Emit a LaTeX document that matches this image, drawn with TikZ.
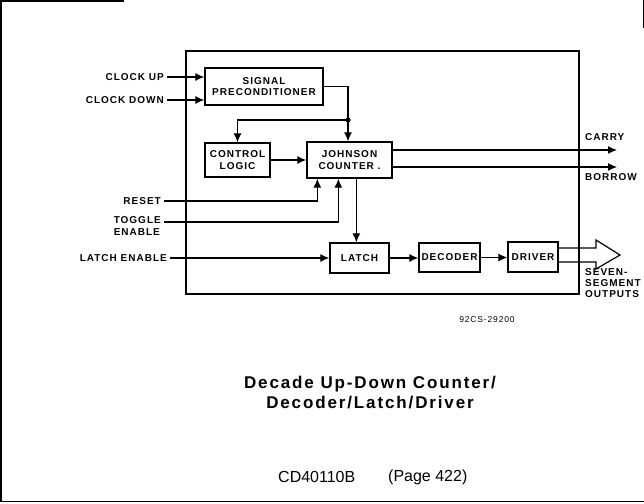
\documentclass[tikz,border=0pt]{standalone}
\usepackage{fontspec}
\usetikzlibrary{arrows.meta}
\newfontfamily\lab[LetterSpace=10]{Liberation Sans}
\newfontfamily\ttl[LetterSpace=11]{Liberation Sans}
\newfontfamily\plain{Liberation Sans}
\begin{document}
\begin{tikzpicture}[x=1pt,y=-1pt,
  ln/.style={line width=1.2pt},
  arr/.style={ln,-{Latex[length=9pt,width=8pt]}},
  blk/.style={draw,line width=1.3pt,inner sep=0pt,align=center,
    font=\lab\bfseries\fontsize{10}{11.5}\selectfont},
  lbl/.style={inner xsep=3pt,inner ysep=0pt,align=left,
    font=\lab\bfseries\fontsize{10}{12}\selectfont},
  ttlstyle/.style={font=\ttl\bfseries\fontsize{17}{20}\selectfont,align=center,inner sep=0pt},
  ftr/.style={font=\plain\fontsize{16}{18}\selectfont,inner sep=0pt}]
\useasboundingbox (0,0) rectangle (644,503);
% page frame
\draw[line width=1.6pt] (1,0) -- (1,502);
\draw[line width=1.2pt] (0,1) -- (124,1);
\draw[line width=1.8pt] (0,501.5) -- (644,501.5);
\draw[line width=1pt] (643,0) -- (643,28);
% main box
\node[draw,line width=1.1pt,minimum width=393pt,minimum height=243pt,inner sep=0pt] (main) at (382.5,172.5) {};
% blocks
\node[blk,minimum width=118pt,minimum height=37pt] (sp) at (264,86.5) {SIGNAL\\PRECONDITIONER};
\node[blk,minimum width=65pt,minimum height=34pt] (cl) at (237.5,160) {CONTROL\\LOGIC};
\node[blk,minimum width=85pt,minimum height=36pt] (jc) at (349.5,160) {JOHNSON\\COUNTER .};
\node[blk,minimum width=59pt,minimum height=30pt] (latch) at (359.5,258) {LATCH};
\node[blk,minimum width=61pt,minimum height=29pt] (dec) at (449.5,257.5) {DECODER};
\node[blk,minimum width=50pt,minimum height=30pt] (drv) at (533,257) {DRIVER};
% input labels
\node[lbl,anchor=east] (cu) at (167,77) {CLOCK UP};
\node[lbl,anchor=east] (cd) at (167,100) {CLOCK DOWN};
\node[lbl,anchor=east] (rst) at (164,201) {RESET};
\node[lbl,anchor=north east] (tog) at (164,216) {TOGGLE\\ENABLE};
\coordinate (togp) at (tog.north east |- 0,222);
\node[lbl,anchor=east] (le) at (170,258) {LATCH ENABLE};
% output labels
\node[lbl,anchor=west] (carry) at (582,137) {CARRY};
\node[lbl,anchor=west] (borrow) at (582,177) {BORROW};
\node[lbl,anchor=north west,font=\lab\bfseries\fontsize{10}{11}\selectfont] (seg) at (582,268) {SEVEN-\\SEGMENT\\OUTPUTS};
\node[font=\lab\fontsize{8.5}{10}\selectfont,inner sep=0pt] (code) at (487,320) {92CS-29200};
% title and footer
\node[ttlstyle] (title) at (370,393) {Decade Up-Down Counter/\\Decoder/Latch/Driver};
\node[ftr,anchor=west] (part) at (278,477) {CD40110B};
\node[ftr,anchor=west] (page) at (388,477) {(Page 422)};
% connectors
\draw[arr] (cu.east) -- (cu.east -| sp.west);
\draw[arr] (cd.east) -- (cd.east -| sp.west);
\coordinate (j) at (348,120);
\draw[ln] (sp.east) -| (j);
\draw[arr] (j) -- (j |- jc.north);
\draw[arr] (j) -| (cl.north);
\fill (j) circle (2.6pt);
\draw[arr] (cl.east) -- (cl.east -| jc.west);
\coordinate (carryend) at (617,150);
\coordinate (borrowend) at (617,167);
\draw[arr] (jc.east |- carryend) -- (carryend);
\draw[arr] (jc.east |- borrowend) -- (borrowend);
\coordinate (rin) at ([xshift=11pt]jc.south west);
\coordinate (tin) at ([xshift=32pt]jc.south west);
\coordinate (lout) at ([xshift=50pt]jc.south west);
\draw[arr] (rst.east) -| (rin);
\draw[arr] (togp) -| (tin);
\draw[arr] (lout) -- (lout |- latch.north);
\draw[arr] (le.east) -- (le.east -| latch.west);
\draw[arr] (latch.east) -- (latch.east -| dec.west);
\draw[arr] (dec.east) -- (dec.east -| drv.west);
% hollow output arrow
\draw[ln,line join=miter] (drv.east |- 0,248) -- (596,248) -- (596,240) -- (620,255)
  -- (596,269) -- (596,262) -- (drv.east |- 0,262);
\end{tikzpicture}
\end{document}
